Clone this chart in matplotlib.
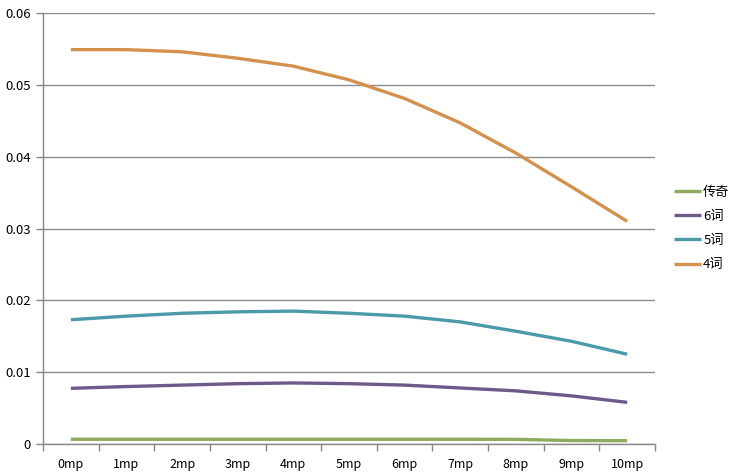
import matplotlib.pyplot as plt
import numpy as np

plt.rcParams['font.family'] = ['Noto Sans CJK SC', 'DejaVu Sans']

# categories and series
categories = ['0mp', '1mp', '2mp', '3mp', '4mp', '5mp', '6mp', '7mp', '8mp', '9mp', '10mp']
legend_qi = [0.00066, 0.00066, 0.00066, 0.00066, 0.00066, 0.00066, 0.00066, 0.00066, 0.00065, 0.00048, 0.00047]
ci6 = [0.00775, 0.0080, 0.0082, 0.0084, 0.0085, 0.0084, 0.0082, 0.0078, 0.0074, 0.0067, 0.0058]
ci5 = [0.0173, 0.0178, 0.0182, 0.0184, 0.0185, 0.0182, 0.0178, 0.0170, 0.0157, 0.0143, 0.0125]
ci4 = [0.0549, 0.0549, 0.0546, 0.0537, 0.0526, 0.0507, 0.0481, 0.0447, 0.0405, 0.0358, 0.0310]

fig = plt.figure(figsize=(7.55, 4.73), dpi=100)
ax = fig.add_axes([0.057, 0.0613, 0.8105, 0.9112])

x = np.arange(len(categories))
ax.plot(x, legend_qi, color='#8EAA5E', lw=2.4, label='传奇', solid_capstyle='butt')
ax.plot(x, ci6, color='#6E5A8A', lw=2.4, label='6词', solid_capstyle='butt')
ax.plot(x, ci5, color='#4A9AAA', lw=2.4, label='5词', solid_capstyle='butt')
ax.plot(x, ci4, color='#D4914E', lw=2.4, label='4词', solid_capstyle='butt')

ax.set_ylim(0, 0.06)
ax.set_xlim(-0.5, len(categories) - 0.5)
ax.set_yticks(np.arange(0, 0.061, 0.01))
ax.set_yticklabels(['0', '0.01', '0.02', '0.03', '0.04', '0.05', '0.06'])
ax.set_xticks(x)
ax.set_xticklabels(categories)
ax.set_xticks(np.arange(-0.5, len(categories), 1.0), minor=True)
ax.tick_params(axis='x', which='major', length=0, pad=10, labelsize=9)
ax.tick_params(axis='x', which='minor', length=5, color='#888888', width=1)
ax.tick_params(axis='y', length=5, color='#888888', width=1, pad=4, labelsize=9.5)

ax.grid(axis='y', color='#8c8c8c', lw=1)
ax.set_axisbelow(True)
for s in ['top', 'right']:
    ax.spines[s].set_visible(False)
for s in ['left', 'bottom']:
    ax.spines[s].set_color('#888888')
    ax.spines[s].set_linewidth(1)

ax.legend(loc='center left', bbox_to_anchor=(1.012, 0.5), frameon=False,
          handlelength=2.0, handletextpad=0.2, labelspacing=0.85, fontsize=9.5)

fig.savefig('out.png', dpi=100)
